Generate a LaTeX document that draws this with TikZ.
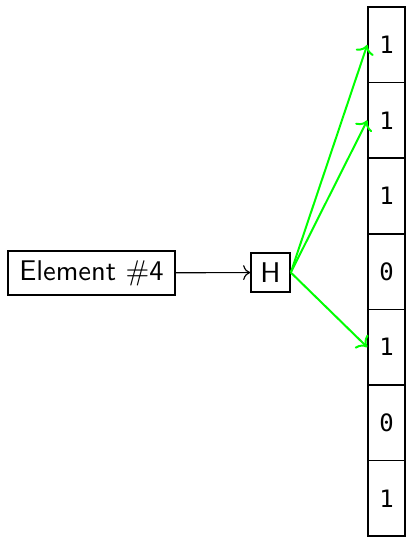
\documentclass[tikz,border=0pt]{standalone}
\usepackage{fontspec}
\newfontfamily\bitfont{DejaVu Sans Mono}[Scale=0.84]
\usetikzlibrary{arrows.meta}
\begin{document}
\begin{tikzpicture}[x=0.3509pt,y=-0.3509pt,
  box/.style={draw, line width=0.5pt, font=\sffamily, inner xsep=4pt},
  bitcell/.style={draw, line width=0.5pt, minimum width=13pt, minimum height=26.5pt, inner sep=0pt, font=\bitfont},
  hashlink/.style={->, draw={rgb,255:red,0;green,255;blue,0}, line width=0.7pt}]
  \useasboundingbox (0,0) rectangle (406,537);

  % input element and hash function
  \node[box] (elem) at (91.5,273) {Element \#4};
  \node[box, inner xsep=3.33pt] (hash) at (270.5,272.5) {H};

  % bit array
  \foreach \b [count=\i] in {1,1,1,0,1,0,1} {
    \node[bitcell] (cell\i) at (386.5,{7+75.6*(\i-0.5)}) {\b};
  }

  % connectors
  \draw[->] (elem) -- (hash);
  \draw[hashlink] (hash.east) -- (cell1.west);
  \draw[hashlink] (hash.east) -- (cell2.west);
  \draw[hashlink] (hash.east) -- (cell5.west);
\end{tikzpicture}
\end{document}
